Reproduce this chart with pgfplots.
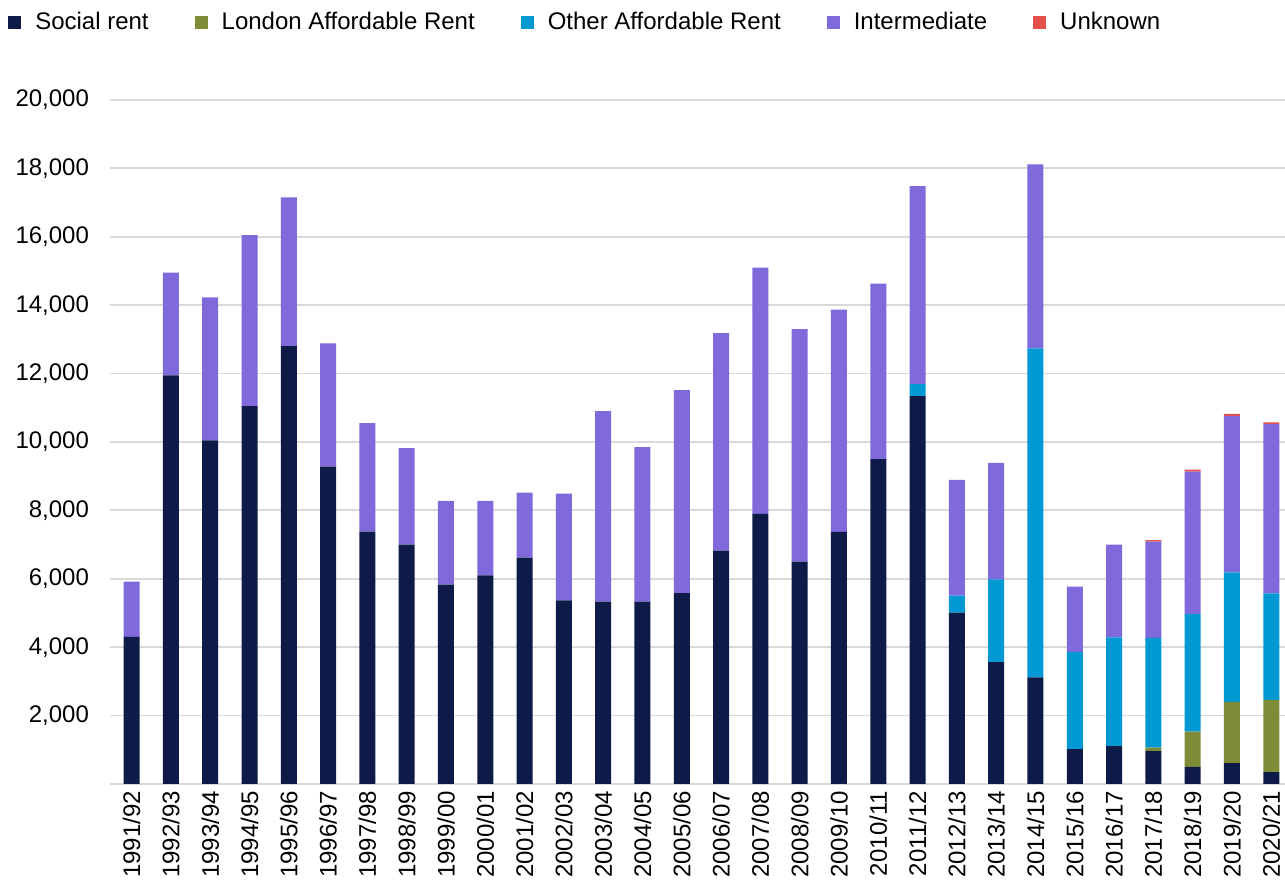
\documentclass[border=0pt]{standalone}
\usepackage{fontspec}
\setmainfont{Liberation Sans}
\usepackage{pgfplots}
\usepackage{pgfplotstable}
\pgfplotsset{compat=1.18}
\definecolor{social}{RGB}{14,26,72}
\definecolor{lar}{RGB}{127,140,55}
\definecolor{oar}{RGB}{0,153,211}
\definecolor{inter}{RGB}{128,105,219}
\definecolor{unk}{RGB}{230,80,75}
\definecolor{gridgrey}{RGB}{217,217,217}

\pgfplotstableread{
x social lar oar inter unk
0  4300  0    0    1620 0
1  11950 0    0    3000 0
2  10050 0    0    4180 0
3  11050 0    0    5000 0
4  12800 0    0    4350 0
5  9280  0    0    3600 0
6  7380  0    0    3170 0
7  7000  0    0    2820 0
8  5830  0    0    2450 0
9  6100  0    0    2180 0
10 6620  0    0    1900 0
11 5370  0    0    3120 0
12 5330  0    0    5570 0
13 5330  0    0    4520 0
14 5580  0    0    5940 0
15 6820  0    0    6360 0
16 7900  0    0    7200 0
17 6500  0    0    6800 0
18 7370  0    0    6500 0
19 9500  0    0    5130 0
20 11340 0    350  5790 0
21 5010  0    500  3380 0
22 3560  0    2420 3410 0
23 3120  0    9620 5380 0
24 1020  0    2840 1910 0
25 1110  0    3180 2710 0
26 960   100  3210 2820 40
27 500   1030 3440 4160 60
28 610   1790 3790 4570 60
29 350   2110 3110 4955 50
}\housing

\begin{document}
\begin{tikzpicture}
\begin{axis}[
  name=ax,
  scale only axis,
  width=587.5pt, height=342pt,
  ybar stacked, bar width=8pt,
  xmin=-0.55, xmax=29.35,
  ymin=0, ymax=20000,
  ytick={2000,4000,...,20000},
  xtick=data,
  xticklabels={1991/92,1992/93,1993/94,1994/95,1995/96,1996/97,1997/98,1998/99,1999/00,2000/01,2001/02,2002/03,2003/04,2004/05,2005/06,2006/07,2007/08,2008/09,2009/10,2010/11,2011/12,2012/13,2013/14,2014/15,2015/16,2016/17,2017/18,2018/19,2019/20,2020/21},
  xticklabel style={rotate=90, anchor=east, font=\fontsize{12}{14}\selectfont},
  yticklabel style={font=\fontsize{12}{14}\selectfont, xshift=-7pt},
  /pgf/number format/assume math mode=true,
  /pgf/number format/1000 sep={,},
  scaled y ticks=false,
  axis y line*=left,
  y axis line style={draw=none},
  axis x line*=bottom,
  x axis line style={gridgrey, line width=1.2pt, -},
  major tick length=0pt,
  ymajorgrids,
  grid style={gridgrey, line width=0.9pt},
  legend style={draw=none, fill=none, at={(-0.092,1.114)}, anchor=west,
    legend columns=-1, font=\fontsize{12}{14}\selectfont,
    /tikz/every odd column/.append style={column sep=5pt},
    /tikz/every even column/.append style={column sep=21pt}},
  legend image code/.code={\fill[#1] (0pt,-3.25pt) rectangle (6.5pt,3.25pt);},
  clip=false,
]
\addplot[fill=social, draw=none] table[x=x, y=social] {\housing};
\addlegendentry{Social rent}
\addplot[fill=lar, draw=none] table[x=x, y=lar] {\housing};
\addlegendentry{London Affordable Rent}
\addplot[fill=oar, draw=none] table[x=x, y=oar] {\housing};
\addlegendentry{Other Affordable Rent}
\addplot[fill=inter, draw=none] table[x=x, y=inter] {\housing};
\addlegendentry{Intermediate}
\addplot[fill=unk, draw=none] table[x=x, y=unk] {\housing};
\addlegendentry{Unknown}
\end{axis}
\pgfresetboundingbox
\path ([shift={(-55pt,-56pt)}]ax.south west) rectangle ([shift={(0pt,50pt)}]ax.north east);
\end{tikzpicture}
\end{document}
